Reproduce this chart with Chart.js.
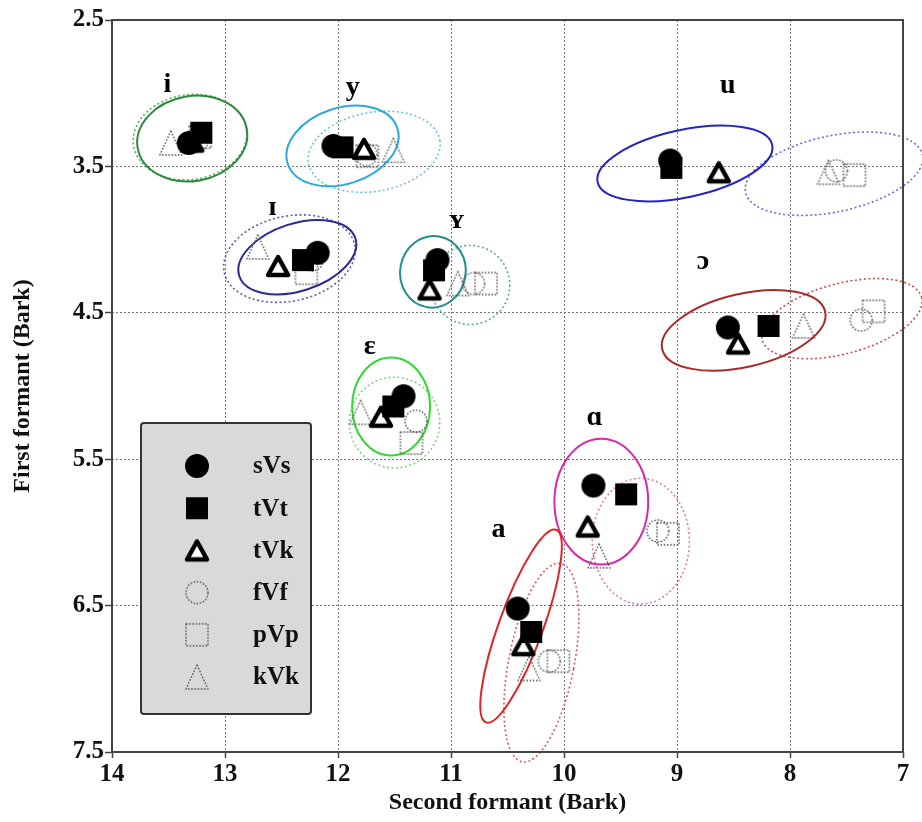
<!DOCTYPE html>
<html>
<head>
<meta charset="utf-8">
<script src="https://cdn.jsdelivr.net/npm/chart.js@4.4.1/dist/chart.umd.min.js"></script>
<style>
  html, body { margin: 0; padding: 0; background: #fff; }
  #wrap { width: 922px; height: 822px; }
</style>
</head>
<body>
<div id="wrap"><canvas id="chart" width="922" height="822"></canvas></div>
<script>
// vowels, in the order used by every array below
const vowels = ['i', 'y', 'u', 'ɪ', 'ʏ', 'ɔ', 'ɛ', 'ɑ', 'a'];
const labelF2 = [13.51, 11.87, 8.55, 12.58, 10.95, 8.77, 11.72, 9.73, 10.58];
const labelF1 = [2.94, 2.96, 2.95, 3.78, 3.87, 4.15, 4.73, 5.22, 5.98];

// consonant contexts
const contexts = ['sVs', 'tVt', 'tVk', 'fVf', 'pVp', 'kVk'];

// mean formants (Bark) per context
const sVsF2 = [13.32, 12.04, 9.06, 12.18, 11.12, 8.55, 11.42, 9.74, 10.41];
const sVsF1 = [3.34, 3.36, 3.46, 4.09, 4.14, 4.60, 5.07, 5.68, 6.52];
const tVtF2 = [13.21, 11.96, 9.05, 12.31, 11.15, 8.19, 11.51, 9.45, 10.29];
const tVtF1 = [3.27, 3.37, 3.51, 4.14, 4.21, 4.59, 5.14, 5.74, 6.68];
const tVkF2 = [13.29, 11.77, 8.63, 12.53, 11.19, 8.46, 11.62, 9.79, 10.36];
const tVkF1 = [3.33, 3.38, 3.54, 4.18, 4.34, 4.71, 5.21, 5.96, 6.77];
const fVfF2 = [13.25, 11.75, 7.59, 12.23, 10.80, 7.37, 11.31, 9.17, 10.13];
const fVfF1 = [3.33, 3.42, 3.53, 4.14, 4.30, 4.55, 5.24, 5.99, 6.88];
const pVpF2 = [13.22, 11.74, 7.43, 12.28, 10.69, 7.26, 11.35, 9.08, 10.05];
const pVpF1 = [3.30, 3.43, 3.56, 4.23, 4.30, 4.49, 5.39, 6.01, 6.88];
const kVkF2 = [13.48, 11.51, 7.66, 12.71, 10.94, 7.88, 11.80, 9.69, 10.31];
const kVkF1 = [3.34, 3.39, 3.54, 4.05, 4.30, 4.59, 5.18, 6.16, 6.93];

// dispersion ellipses: centre, semi-axis along F2 and F1 (Bark), tilt (deg)
const solidCx  = [13.29, 11.96, 8.93, 12.36, 11.16, 8.41, 11.53, 9.67, 10.38];
const solidCy  = [3.31, 3.36, 3.48, 4.12, 4.22, 4.62, 5.14, 5.79, 6.64];
const solidA   = [0.49, 0.51, 0.79, 0.54, 0.29, 0.74, 0.345, 0.415, 0.195];
const solidB   = [0.29, 0.26, 0.23, 0.23, 0.245, 0.25, 0.335, 0.43, 0.70];
const solidRot = [-10, -18, -12, -18, 10, -13, 0, 0, 20];

const dotCx  = [13.31, 11.68, 7.61, 12.43, 10.83, 7.54, 11.50, 9.32, 10.20];
const dotCy  = [3.30, 3.40, 3.55, 4.13, 4.31, 4.54, 5.25, 6.06, 6.89];
const dotA   = [0.505, 0.59, 0.80, 0.59, 0.35, 0.73, 0.40, 0.43, 0.29];
const dotB   = [0.29, 0.27, 0.26, 0.29, 0.27, 0.24, 0.31, 0.43, 0.69];
const dotRot = [-8, -10, -12, -12, 0, -15, 0, 0, 11];

const xTicks = [14, 13, 12, 11, 10, 9, 8, 7];
const yTicks = [2.5, 3.5, 4.5, 5.5, 6.5, 7.5];

const solidColors = ['#2a8a3a', '#2aa8de', '#2424c0', '#2a2a90', '#1f8f8a', '#a82a2a', '#2ed82e', '#d82aa8', '#e02424'];
const dotColors   = ['#5aae5a', '#6cc0e0', '#6a6ad8', '#5a5aa8', '#5aa8b0', '#c85050', '#7ad87a', '#e07ab8', '#e05a5a'];

const serif = '"Liberation Serif", "DejaVu Serif", serif';

// marker images
function marker(kind) {
  const c = document.createElement('canvas');
  c.width = 30; c.height = 30;
  const g = c.getContext('2d');
  g.lineJoin = 'round';
  if (kind === 'sVs') {
    g.fillStyle = '#000';
    g.beginPath(); g.arc(15, 15, 12, 0, Math.PI * 2); g.fill();
  } else if (kind === 'tVt') {
    g.fillStyle = '#000';
    g.fillRect(4, 4, 22, 22);
  } else if (kind === 'tVk') {
    g.fillStyle = '#fff';
    g.strokeStyle = '#000';
    g.lineWidth = 4.5;
    g.beginPath(); g.moveTo(15, 6); g.lineTo(25, 24); g.lineTo(5, 24); g.closePath();
    g.fill(); g.stroke();
  } else {
    g.strokeStyle = '#555';
    g.lineWidth = 1.4;
    g.setLineDash([1.6, 1.6]);
    g.beginPath();
    if (kind === 'fVf') g.arc(15, 15, 11, 0, Math.PI * 2);
    if (kind === 'pVp') g.rect(4, 4, 22, 22);
    if (kind === 'kVk') { g.moveTo(15, 3); g.lineTo(26, 27); g.lineTo(4, 27); g.closePath(); }
    g.stroke();
  }
  return c;
}
const markers = {};
contexts.forEach(k => markers[k] = marker(k));

function pts(f2, f1) {
  return f2.map((v, i) => ({x: v, y: f1[i]}));
}

const seriesF2 = [sVsF2, tVtF2, tVkF2, fVfF2, pVpF2, kVkF2];
const seriesF1 = [sVsF1, tVtF1, tVkF1, fVfF1, pVpF1, kVkF1];
const drawOrder = [0, 1, 2, 4, 5, 3];

const ellipsePlugin = {
  id: 'ellipses',
  beforeDatasetsDraw(chart) {
    const {ctx, scales: {x, y}} = chart;
    const sets = [
      {cx: dotCx, cy: dotCy, a: dotA, b: dotB, rot: dotRot, colors: dotColors, dash: [2, 2.5], width: 1.6},
      {cx: solidCx, cy: solidCy, a: solidA, b: solidB, rot: solidRot, colors: solidColors, dash: [], width: 2}
    ];
    sets.forEach(s => {
      ctx.save();
      ctx.lineWidth = s.width;
      ctx.setLineDash(s.dash);
      s.cx.forEach((cx, i) => {
        const px = x.getPixelForValue(cx);
        const py = y.getPixelForValue(s.cy[i]);
        const rx = Math.abs(x.getPixelForValue(cx + s.a[i]) - px);
        const ry = Math.abs(y.getPixelForValue(s.cy[i] + s.b[i]) - py);
        ctx.strokeStyle = s.colors[i];
        ctx.beginPath();
        ctx.ellipse(px, py, rx, ry, s.rot[i] * Math.PI / 180, 0, Math.PI * 2);
        ctx.stroke();
      });
      ctx.restore();
    });
  },
  afterDatasetsDraw(chart) {
    const {ctx, chartArea: ca, scales: {x, y}} = chart;
    // frame
    ctx.save();
    ctx.strokeStyle = '#444';
    ctx.lineWidth = 2;
    ctx.strokeRect(ca.left, ca.top, ca.right - ca.left, ca.bottom - ca.top);

    // vowel labels
    ctx.fillStyle = '#000';
    ctx.font = 'bold 28px ' + serif;
    ctx.textAlign = 'center';
    ctx.textBaseline = 'middle';
    vowels.forEach((v, i) => {
      ctx.fillText(v, x.getPixelForValue(labelF2[i]), y.getPixelForValue(labelF1[i]));
    });

    // legend box
    const bx = ca.left + 29, by = ca.top + 403, bw = 170, bh = 291;
    ctx.fillStyle = '#d9d9d9';
    ctx.strokeStyle = '#333';
    ctx.lineWidth = 2;
    ctx.beginPath();
    ctx.roundRect(bx, by, bw, bh, 3);
    ctx.fill(); ctx.stroke();
    ctx.font = 'bold 25px ' + serif;
    ctx.textAlign = 'left';
    ctx.fillStyle = '#111';
    contexts.forEach((k, i) => {
      const ry = by + 43 + i * 42.2;
      const m = markers[k];
      ctx.drawImage(m, bx + 56 - m.width / 2, ry - m.height / 2);
      ctx.fillText(k, bx + 112, ry + 1);
    });
    ctx.restore();
  }
};

const datasets = contexts.map((k, i) => ({
  label: k,
  data: pts(seriesF2[i], seriesF1[i]),
  pointStyle: markers[k],
  pointRadius: 12,
  order: drawOrder[i],
  clip: false
}));

new Chart(document.getElementById('chart'), {
  type: 'scatter',
  data: {datasets},
  options: {
    responsive: false,
    animation: false,
    devicePixelRatio: 1,
    layout: {padding: {top: 20, right: 19, left: 0, bottom: 0}},
    plugins: {legend: {display: false}, tooltip: {enabled: false}},
    scales: {
      x: {
        type: 'linear',
        min: 7, max: 14,
        reverse: true,
        afterBuildTicks: s => { s.ticks = xTicks.map(v => ({value: v})); },
        afterFit: s => { s.height = 70; },
        grid: {color: '#777', lineWidth: 1, tickLength: 6, tickColor: '#444', tickWidth: 1.5},
        border: {display: false, dash: [2, 2]},
        ticks: {
          color: '#111', padding: 2, maxRotation: 0,
          font: {family: serif, size: 25, weight: 'bold'},
          callback: v => String(v)
        },
        title: {
          display: true, text: 'Second formant (Bark)', color: '#111',
          font: {family: serif, size: 24, weight: 'bold'},
          padding: {top: 0, bottom: 5}
        }
      },
      y: {
        type: 'linear',
        min: 2.5, max: 7.5,
        reverse: true,
        afterBuildTicks: s => { s.ticks = yTicks.map(v => ({value: v})); },
        afterFit: s => { s.width = 112; },
        grid: {color: '#777', lineWidth: 1, tickLength: 7, tickColor: '#444', tickWidth: 1.5},
        border: {display: false, dash: [2, 2]},
        ticks: {
          color: '#111', padding: 1,
          font: {family: serif, size: 25, weight: 'bold'},
          callback: v => v.toFixed(1)
        },
        title: {
          display: true, text: 'First formant (Bark)', color: '#111',
          font: {family: serif, size: 24, weight: 'bold'},
          padding: {top: 8, bottom: 0}
        }
      }
    }
  },
  plugins: [ellipsePlugin]
});
</script>
</body>
</html>
